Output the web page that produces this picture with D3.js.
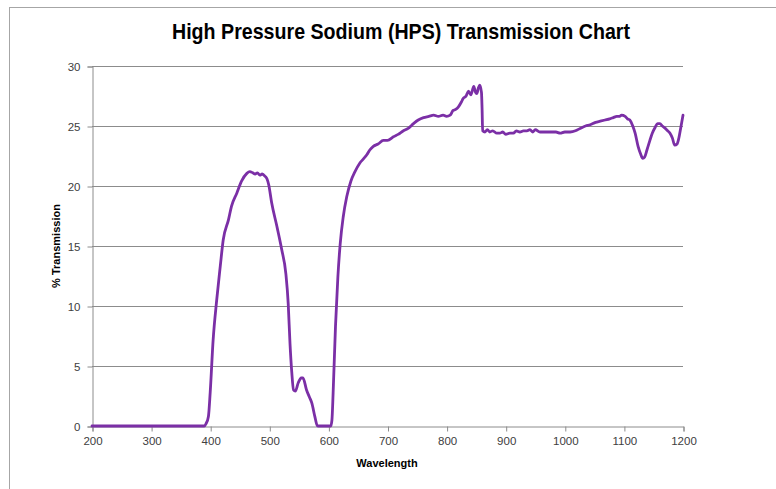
<!DOCTYPE html>
<html>
<head>
<meta charset="utf-8">
<script src="https://cdn.jsdelivr.net/npm/d3@7"></script>
<style>
  html, body { margin: 0; padding: 0; background: #fff; }
  svg { display: block; }
  text { font-family: "Liberation Sans", "DejaVu Sans", sans-serif; }
</style>
</head>
<body>
<svg id="chart" width="776" height="489"></svg>
<script>
// ---- data ----
const wavelengths = [200,300,390,393,397,400,405,411,417,422,431,436,445,453,462,467,472,476,480,484,488,493,496,499,504,513,521,528,532,535,538,541,544,549,554,557,563,568,572,577,581,583,604,606,608,612,616,620,625,631,638,645,653,660,665,670,676,684,693,700,710,718,727,735,744,752,761,770,778,786,794,800,806,811,816,820,825,828,833,837,841,846,849,851,854,856,859,860,861,865,869,873,878,885,890,895,900,907,913,918,924,930,936,941,946,950,958,965,975,985,992,1000,1009,1018,1026,1035,1043,1052,1060,1068,1076,1082,1088,1092,1096,1102,1106,1110,1115,1119,1124,1128,1132,1135,1139,1144,1148,1153,1157,1161,1165,1170,1174,1178,1182,1186,1190,1193,1196,1200];
const transmission = [0,0,0,0.2,0.8,2.8,7.2,10.5,13.3,15.5,17.2,18.3,19.4,20.4,21.05,21.2,21.1,21.0,21.1,20.9,21.0,20.8,20.6,20.1,18.6,16.6,14.7,12.7,10.2,6.9,4.5,3.0,2.9,3.6,4.0,4.0,3.0,2.4,1.9,0.8,0.05,0,0,0.5,2.75,8.3,12.4,15.2,17.4,19.1,20.4,21.2,21.9,22.3,22.6,23.0,23.3,23.5,23.8,23.8,24.1,24.3,24.6,24.8,25.2,25.5,25.7,25.8,25.9,25.8,25.9,25.8,25.9,26.3,26.4,26.6,27.0,27.3,27.5,27.9,27.6,28.3,27.8,27.7,28.2,28.4,27.8,26.5,24.6,24.5,24.7,24.5,24.6,24.4,24.4,24.5,24.3,24.4,24.4,24.6,24.5,24.6,24.6,24.7,24.5,24.7,24.5,24.5,24.5,24.5,24.4,24.5,24.5,24.6,24.8,25.0,25.1,25.3,25.4,25.5,25.6,25.7,25.8,25.8,25.9,25.8,25.6,25.5,25.0,24.4,23.3,22.7,22.3,22.4,23.0,23.8,24.4,24.9,25.2,25.2,25.0,24.8,24.6,24.4,24.0,23.4,23.5,24.0,24.8,25.9];
const xTicks = [200,300,400,500,600,700,800,900,1000,1100,1200];
const yTicks = [0,5,10,15,20,25,30];
const titleText = "High Pressure Sodium (HPS) Transmission Chart";
const xTitle = "Wavelength";
const yTitle = "% Transmission";

// ---- layout ----
const svg = d3.select("#chart");
const plot = { left: 92, right: 683, top: 66, bottom: 426 };

// outer chart border
svg.append("rect")
  .attr("x", 9.5).attr("y", 7.5)
  .attr("width", 800).attr("height", 500)
  .attr("fill", "none").attr("stroke", "#a6a6a6").attr("stroke-width", 1);

const x = d3.scaleLinear().domain([200, 1200]).range([plot.left, plot.right]);
const y = d3.scaleLinear().domain([0, 30]).range([plot.bottom, plot.top]);

// gridlines
svg.append("g")
  .selectAll("line")
  .data(yTicks.filter(d => d > 0))
  .join("line")
  .attr("x1", plot.left).attr("x2", plot.right)
  .attr("y1", d => Math.round(y(d)) + 0.5).attr("y2", d => Math.round(y(d)) + 0.5)
  .attr("stroke", "#8c8c8c").attr("stroke-width", 1);

// y axis
const yAxis = svg.append("g")
  .attr("transform", `translate(${plot.left + 0.5},0.5)`)
  .call(d3.axisLeft(y).tickValues(yTicks).tickSize(5).tickPadding(7).tickFormat(d3.format("d")));
yAxis.select(".domain").attr("stroke", "#8c8c8c");
yAxis.selectAll(".tick line").attr("stroke", "#8c8c8c");
yAxis.selectAll("text").attr("font-size", 11.5).attr("fill", "#404040");

// x axis
const xAxis = svg.append("g")
  .attr("transform", `translate(0.5,${plot.bottom + 0.5})`)
  .call(d3.axisBottom(x).tickValues(xTicks).tickSize(5).tickPadding(5).tickFormat(d3.format("d")));
xAxis.select(".domain").attr("stroke", "#8c8c8c");
xAxis.selectAll(".tick line").attr("stroke", "#8c8c8c");
xAxis.selectAll("text").attr("font-size", 11.5).attr("fill", "#404040");

// line
const data = wavelengths.map((w, i) => ({ w, t: transmission[i] }));
svg.append("path")
  .datum(data)
  .attr("fill", "none")
  .attr("stroke", "#7b2fa6")
  .attr("stroke-width", 2.8)
  .attr("stroke-linejoin", "round")
  .attr("stroke-linecap", "round")
  .attr("d", d3.line().x(d => x(d.w)).y(d => y(d.t)).curve(d3.curveMonotoneX));

// titles
svg.append("text")
  .attr("x", 401).attr("y", 39)
  .attr("text-anchor", "middle")
  .attr("font-size", 22).attr("font-weight", "bold").attr("fill", "#000")
  .attr("textLength", 458).attr("lengthAdjust", "spacingAndGlyphs")
  .text(titleText);

svg.append("text")
  .attr("x", 387).attr("y", 467)
  .attr("text-anchor", "middle")
  .attr("font-size", 11).attr("font-weight", "bold").attr("fill", "#000")
  .text(xTitle);

svg.append("text")
  .attr("transform", "translate(60,246) rotate(-90)")
  .attr("text-anchor", "middle")
  .attr("font-size", 11).attr("font-weight", "bold").attr("fill", "#000")
  .text(yTitle);
</script>
</body>
</html>
